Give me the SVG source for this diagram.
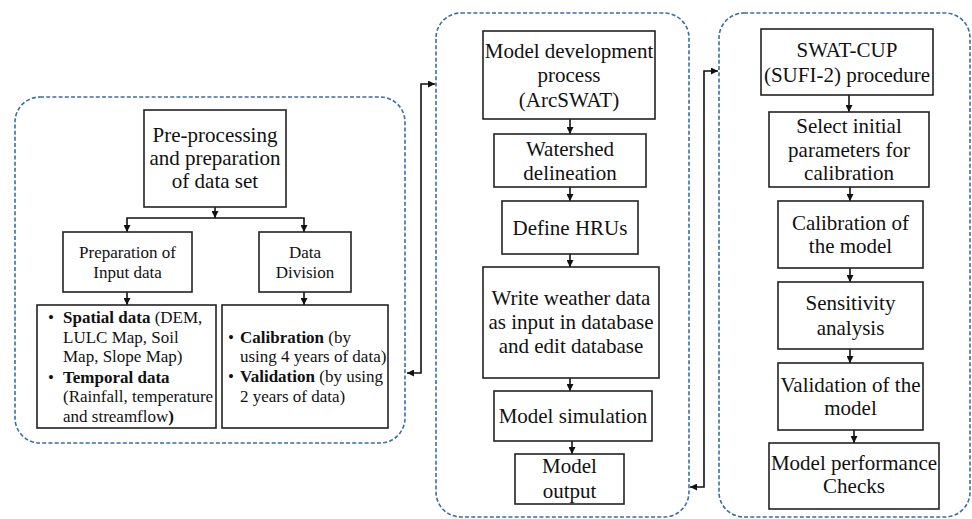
<svg xmlns="http://www.w3.org/2000/svg" width="972" height="519" viewBox="0 0 972 519">
  <defs>
    <marker id="arr" viewBox="0 0 10 10" refX="10" refY="5" markerWidth="7" markerHeight="7" markerUnits="userSpaceOnUse" orient="auto-start-reverse">
      <path d="M0,0 L10,5 L0,10 z" fill="#111"/>
    </marker>
    <style>
      .panel { fill: none; stroke: #3a6ea5; stroke-width: 1.6; stroke-dasharray: 4 2.2; }
      .box { fill: #fff; stroke: #222; stroke-width: 1.6; }
      text { font-family: 'Liberation Serif', Tinos, 'Times New Roman', 'DejaVu Serif', serif; fill: #111; }
      .big { font-size: 21px; text-anchor: middle; }
      .sm { font-size: 17px; }
      .smc { font-size: 17px; text-anchor: middle; }
      .b { font-weight: bold; }
      .ln { fill: none; stroke: #111; stroke-width: 1.6; }
    </style>
  </defs>
  <rect width="972" height="519" fill="#fff"/>

  <g id="panels">
    <rect class="panel" x="15" y="97" width="390" height="346" rx="25" ry="25"/>
    <rect class="panel" x="436" y="13" width="253" height="504" rx="25" ry="25"/>
    <rect class="panel" x="719" y="13" width="251" height="504" rx="25" ry="25"/>
  </g>

  <g id="connectors">
    <path class="ln" d="M215,207 V218" marker-end="url(#arr)"/>
    <path class="ln" d="M127,232 V218 H304 V232" marker-start="url(#arr)" marker-end="url(#arr)"/>
    <path class="ln" d="M127,292 V305" marker-end="url(#arr)"/>
    <path class="ln" d="M304,292 V305" marker-end="url(#arr)"/>
    <path class="ln" d="M570,119 V134" marker-end="url(#arr)"/>
    <path class="ln" d="M570,187 V201" marker-end="url(#arr)"/>
    <path class="ln" d="M570,254 V267" marker-end="url(#arr)"/>
    <path class="ln" d="M570,378 V391" marker-end="url(#arr)"/>
    <path class="ln" d="M572,441 V454" marker-end="url(#arr)"/>
    <path class="ln" d="M849,95 V112" marker-end="url(#arr)"/>
    <path class="ln" d="M850,187 V201" marker-end="url(#arr)"/>
    <path class="ln" d="M850,268 V282" marker-end="url(#arr)"/>
    <path class="ln" d="M850,349 V363" marker-end="url(#arr)"/>
    <path class="ln" d="M854,430 V443" marker-end="url(#arr)"/>
    <path class="ln" d="M435,84 H421 V373 H407" marker-start="url(#arr)" marker-end="url(#arr)"/>
    <path class="ln" d="M718,71 H704 V487 H690" marker-start="url(#arr)" marker-end="url(#arr)"/>
  </g>

  <g id="preprocessing">
    <rect class="box" x="144" y="110" width="142" height="97"/>
    <text class="big" x="215" y="142">Pre-processing</text>
    <text class="big" x="215" y="165">and preparation</text>
    <text class="big" x="215" y="188">of data set</text>
  </g>
  <g id="input-data">
    <rect class="box" x="63" y="232" width="129" height="60"/>
    <text class="smc" x="127.5" y="258">Preparation of</text>
    <text class="smc" x="127.5" y="278">Input data</text>
  </g>
  <g id="data-division">
    <rect class="box" x="259" y="232" width="92" height="60"/>
    <text class="smc" x="305" y="258">Data</text>
    <text class="smc" x="305" y="278">Division</text>
  </g>
  <g id="input-list">
    <rect class="box" x="37" y="305" width="179" height="123"/>
    <text class="sm" x="48" y="323">•</text>
    <text class="sm" x="63" y="323"><tspan class="b">Spatial data</tspan> (DEM,</text>
    <text class="sm" x="63" y="343">LULC Map, Soil</text>
    <text class="sm" x="63" y="362">Map, Slope Map)</text>
    <text class="sm" x="48" y="383">•</text>
    <text class="sm" x="63" y="383"><tspan class="b">Temporal data</tspan></text>
    <text class="sm" x="63" y="402">(Rainfall, temperature</text>
    <text class="sm" x="63" y="422">and streamflow<tspan class="b">)</tspan></text>
  </g>
  <g id="division-list">
    <rect class="box" x="222" y="305" width="166" height="123"/>
    <text class="sm" x="228" y="343">•</text>
    <text class="sm" x="240" y="343"><tspan class="b">Calibration</tspan> (by</text>
    <text class="sm" x="240" y="362">using 4 years of data)</text>
    <text class="sm" x="228" y="382">•</text>
    <text class="sm" x="240" y="382"><tspan class="b">Validation</tspan> (by using</text>
    <text class="sm" x="240" y="402">2 years of data)</text>
  </g>

  <g id="model-development">
    <rect class="box" x="483" y="31" width="172" height="88"/>
    <text class="big" x="569" y="58">Model development</text>
    <text class="big" x="569" y="82">process</text>
    <text class="big" x="569" y="107">(ArcSWAT)</text>
  </g>
  <g id="watershed">
    <rect class="box" x="494" y="134" width="152" height="53"/>
    <text class="big" x="570" y="156">Watershed</text>
    <text class="big" x="570" y="180">delineation</text>
  </g>
  <g id="hrus">
    <rect class="box" x="502" y="201" width="136" height="53"/>
    <text class="big" x="570" y="235">Define HRUs</text>
  </g>
  <g id="weather">
    <rect class="box" x="483" y="267" width="176" height="111"/>
    <text class="big" x="571" y="305">Write weather data</text>
    <text class="big" x="571" y="329">as input in database</text>
    <text class="big" x="571" y="353">and edit database</text>
  </g>
  <g id="simulation">
    <rect class="box" x="494" y="391" width="158" height="50"/>
    <text class="big" x="573" y="423">Model simulation</text>
  </g>
  <g id="output">
    <rect class="box" x="515" y="454" width="109" height="50"/>
    <text class="big" x="569.5" y="473">Model</text>
    <text class="big" x="569.5" y="498">output</text>
  </g>

  <g id="swatcup">
    <rect class="box" x="761" y="29" width="172" height="66"/>
    <text class="big" x="847" y="57">SWAT-CUP</text>
    <text class="big" x="847" y="82">(SUFI-2) procedure</text>
  </g>
  <g id="select-params">
    <rect class="box" x="769" y="112" width="160" height="75"/>
    <text class="big" x="849" y="133">Select initial</text>
    <text class="big" x="849" y="157">parameters for</text>
    <text class="big" x="849" y="180">calibration</text>
  </g>
  <g id="calibration">
    <rect class="box" x="778" y="201" width="145" height="67"/>
    <text class="big" x="850.5" y="230">Calibration of</text>
    <text class="big" x="850.5" y="253">the model</text>
  </g>
  <g id="sensitivity">
    <rect class="box" x="778" y="282" width="145" height="67"/>
    <text class="big" x="850.5" y="310">Sensitivity</text>
    <text class="big" x="850.5" y="335">analysis</text>
  </g>
  <g id="validation">
    <rect class="box" x="778" y="363" width="145" height="67"/>
    <text class="big" x="850.5" y="392">Validation of the</text>
    <text class="big" x="850.5" y="415">model</text>
  </g>
  <g id="performance">
    <rect class="box" x="769" y="443" width="170" height="66"/>
    <text class="big" x="854" y="470">Model performance</text>
    <text class="big" x="854" y="493">Checks</text>
  </g>
</svg>
